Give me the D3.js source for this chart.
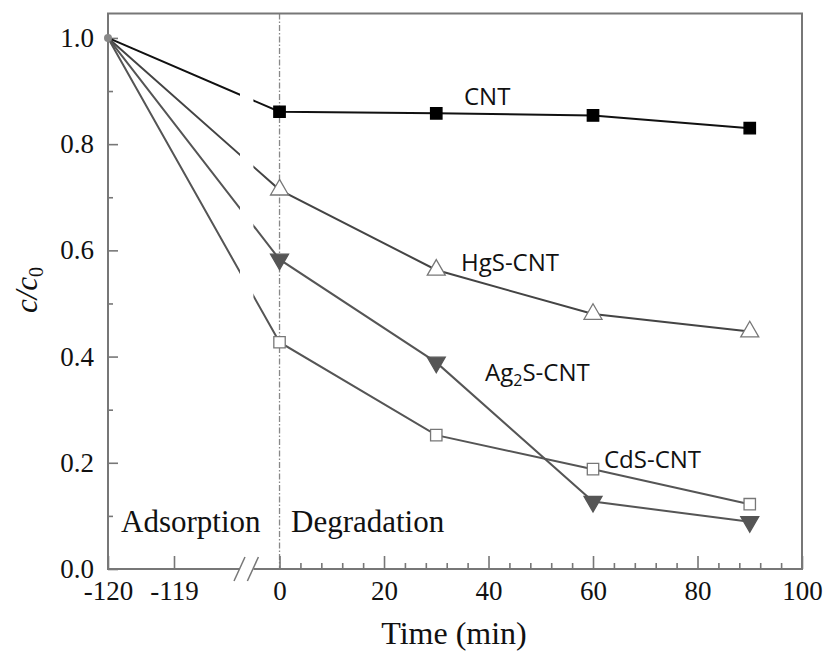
<!DOCTYPE html>
<html>
<head>
<meta charset="utf-8">
<script src="https://cdn.jsdelivr.net/npm/d3@7"></script>
<style>
  body { margin: 0; background: #fff; }
  svg { display: block; }
  .serif { font-family: "Liberation Serif", "Times New Roman", serif; }
  .tag { font-family: "Open Sans", "Liberation Sans", sans-serif; }
</style>
</head>
<body>
<div id="chart"></div>
<script>
// Data
const times = [-120, 0, 30, 60, 90];
const cnt   = [1.0, 0.861, 0.858, 0.854, 0.830];
const hgs   = [1.0, 0.714, 0.563, 0.480, 0.447];
const ag2s  = [1.0, 0.583, 0.389, 0.127, 0.089];
const cds   = [1.0, 0.427, 0.252, 0.188, 0.122];
const xTicksLeft = [-120, -119];
const xTicksRight = [0, 20, 40, 60, 80, 100];
const yTicks = [0, 0.2, 0.4, 0.6, 0.8, 1.0];

const series = [
    { name: 'CNT', values: cnt, color: '#111', marker: 'square', fill: '#000' },
    { name: 'HgS', values: hgs, color: '#444', marker: 'triangle', fill: '#fff' },
    { name: 'Ag2S', values: ag2s, color: '#555', marker: 'triangleDown', fill: '#555' },
    { name: 'CdS', values: cds, color: '#555', marker: 'square', fill: '#fff' }
];

const width = 827, height = 658;
const plot = { left: 108, right: 802, top: 13.5, bottom: 569 };
const gapL = 240, gapR = 253.4;

const svg = d3.select('#chart').append('svg')
    .attr('width', width)
    .attr('height', height);

// broken x axis: two linear pieces
const xLeft = d3.scaleLinear().domain([-120, -118]).range([plot.left, gapL]);
const xRight = d3.scaleLinear().domain([-5, 100]).range([gapR, plot.right]);
const x = v => v < -50 ? xLeft(v) : xRight(v);
const y = d3.scaleLinear().domain([0, 1.046]).range([plot.bottom, plot.top]);

// clip lines across the axis break
const clip = svg.append('clipPath').attr('id', 'brk');
clip.append('rect').attr('x', 0).attr('y', 0).attr('width', gapL).attr('height', height);
clip.append('rect').attr('x', gapR).attr('y', 0).attr('width', width - gapR).attr('height', height);

// vertical dash-dot line at t = 0
svg.append('line')
    .attr('x1', xRight(0)).attr('x2', xRight(0))
    .attr('y1', plot.top).attr('y2', plot.bottom)
    .attr('stroke', '#888')
    .attr('stroke-width', 1.3)
    .attr('stroke-dasharray', '6,2,1.5,2');

// axes
const styleAxis = g => {
    g.select('.domain').remove();
    g.selectAll('line').attr('stroke', '#777').attr('stroke-width', 1.6);
    g.selectAll('text')
        .style('font-family', '"Liberation Serif", "Times New Roman", serif')
        .style('font-size', '27px')
        .attr('fill', '#111');
};

const fmtInt = d => `${d}`;

svg.append('g')
    .attr('transform', `translate(0,${plot.bottom})`)
    .call(d3.axisBottom(xLeft).tickValues(xTicksLeft).tickFormat(fmtInt)
        .tickSizeInner(-13).tickSizeOuter(0).tickPadding(12))
    .call(styleAxis);

svg.append('g')
    .attr('transform', `translate(0,${plot.bottom})`)
    .call(d3.axisBottom(xRight).tickValues(xTicksRight).tickFormat(fmtInt)
        .tickSizeInner(-13).tickSizeOuter(0).tickPadding(12))
    .call(styleAxis);

svg.append('g')
    .attr('transform', `translate(0,${plot.bottom})`)
    .call(d3.axisBottom(xRight).tickValues(d3.range(0, 100, 4).filter(v => v % 20 !== 0))
        .tickSizeInner(-6).tickSizeOuter(0).tickFormat(''))
    .call(styleAxis);

svg.append('g')
    .attr('transform', `translate(${plot.left},0)`)
    .call(d3.axisLeft(y).tickValues(yTicks).tickSizeInner(-10).tickSizeOuter(0).tickPadding(14)
        .tickFormat(d3.format('.1f')))
    .call(styleAxis);

svg.append('g')
    .attr('transform', `translate(${plot.left},0)`)
    .call(d3.axisLeft(y).tickValues([0.1, 0.3, 0.5, 0.7, 0.9]).tickSizeInner(-5).tickSizeOuter(0).tickFormat(''))
    .call(styleAxis);

// frame
const frame = svg.append('g').attr('stroke', '#777').attr('stroke-width', 2).attr('fill', 'none');
frame.append('path').attr('d', `M${gapL},${plot.bottom}H${plot.left}V${plot.top}H${plot.right}V${plot.bottom}H${gapR}`);

// break marks
[gapL, gapR].forEach(bx => {
    frame.append('line')
        .attr('x1', bx - 6).attr('y1', plot.bottom + 12)
        .attr('x2', bx + 5).attr('y2', plot.bottom - 12)
        .attr('stroke-width', 1.5);
});

// lines
const line = d3.line()
    .x((d, i) => x(times[i]))
    .y(d => y(d));

svg.append('g')
    .attr('clip-path', 'url(#brk)')
    .selectAll('path')
    .data(series)
    .join('path')
    .attr('d', d => line(d.values))
    .attr('fill', 'none')
    .attr('stroke', d => d.color)
    .attr('stroke-width', 2);

// markers (skip the start point at -120)
const symbolPath = {
    square: d3.symbol().type(d3.symbolSquare).size(130)(),
    triangle: d3.symbol().type(d3.symbolTriangle).size(140)(),
    triangleDown: d3.symbol().type(d3.symbolTriangle).size(140)()
};

series.forEach(s => {
    svg.append('g')
        .selectAll('path')
        .data(s.values.slice(1))
        .join('path')
        .attr('d', symbolPath[s.marker])
        .attr('transform', (d, i) => `translate(${x(times[i + 1])},${y(d)})` + (s.marker === 'triangleDown' ? ' rotate(180)' : ''))
        .attr('fill', s.fill)
        .attr('stroke', s.fill === '#fff' ? '#777' : s.fill)
        .attr('stroke-width', 1.3);
});

// start point marker at -120
svg.append('circle')
    .attr('cx', x(-120)).attr('cy', y(1.0))
    .attr('r', 4)
    .attr('fill', '#888');

// series labels
const labels = [
    { text: 'CNT', x: 464, y: 105 },
    { text: 'HgS-CNT', x: 461, y: 271 },
    { text: 'Ag', sub: '2', rest: 'S-CNT', x: 485, y: 381 },
    { text: 'CdS-CNT', x: 604, y: 468 }
];

labels.forEach(l => {
    const t = svg.append('text')
        .attr('class', 'tag')
        .attr('x', l.x).attr('y', l.y)
        .attr('font-size', '24px')
        .attr('fill', '#111');
    t.append('tspan').text(l.text);
    if (l.sub) {
        t.append('tspan').attr('font-size', '16px').attr('dy', 5).text(l.sub);
        t.append('tspan').attr('dy', -5).text(l.rest);
    }
});

// region labels
svg.append('text').attr('class', 'serif')
    .attr('x', 121).attr('y', 532)
    .attr('font-size', '31px').attr('fill', '#111')
    .text('Adsorption');

svg.append('text').attr('class', 'serif')
    .attr('x', 291).attr('y', 532)
    .attr('font-size', '31px').attr('fill', '#111')
    .text('Degradation');

// axis titles
svg.append('text').attr('class', 'serif')
    .attr('x', 454).attr('y', 644)
    .attr('text-anchor', 'middle')
    .attr('font-size', '32px').attr('fill', '#111')
    .text('Time (min)');

const yt = svg.append('text').attr('class', 'serif')
    .attr('transform', 'translate(37,290) rotate(-90)')
    .attr('text-anchor', 'middle')
    .attr('font-size', '31px').attr('font-style', 'italic').attr('fill', '#111');
yt.append('tspan').text('c/c');
yt.append('tspan').attr('font-size', '20px').attr('dy', 6).attr('font-style', 'normal').text('0');
</script>
</body>
</html>
